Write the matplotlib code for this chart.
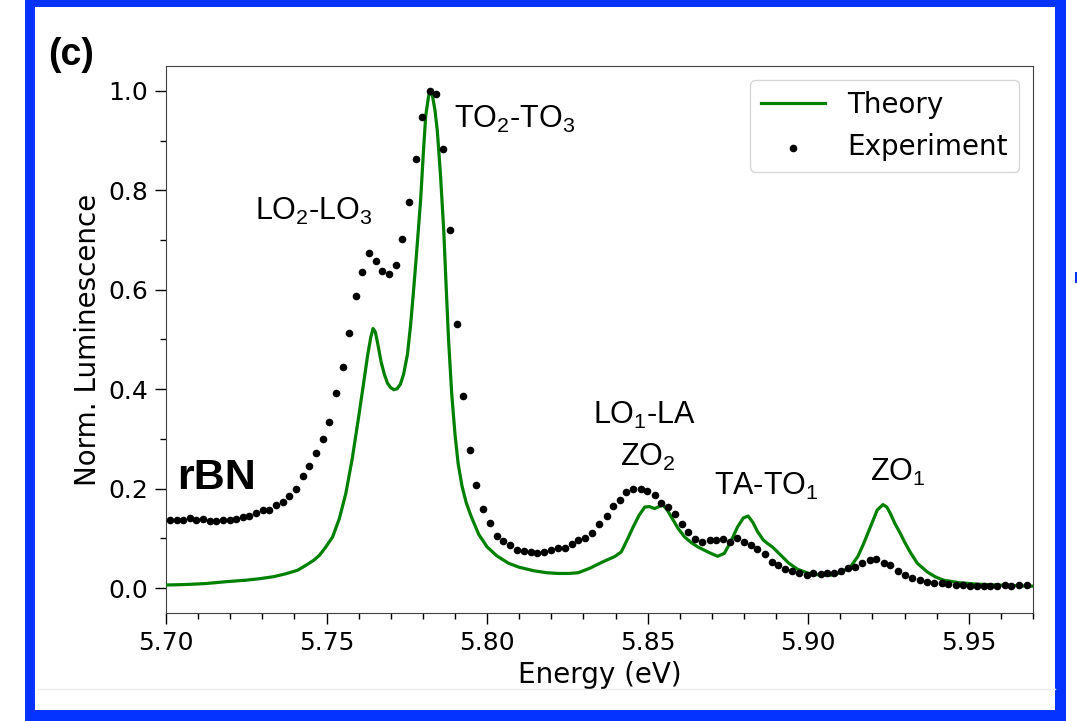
import matplotlib
matplotlib.use('Agg')
import matplotlib.pyplot as plt
from matplotlib.patches import Rectangle
from matplotlib.lines import Line2D
from matplotlib.ticker import MultipleLocator

plt.rcParams['mathtext.fontset'] = 'custom'
plt.rcParams['mathtext.rm'] = 'Liberation Sans'
plt.rcParams['mathtext.it'] = 'Liberation Sans:italic'
plt.rcParams['mathtext.bf'] = 'Liberation Sans:bold'

# theory curve
theory_e = [5.698, 5.705, 5.712, 5.7188, 5.725, 5.7292, 5.7335, 5.7374, 5.741,
            5.7436, 5.746, 5.7478, 5.7498, 5.7519, 5.754, 5.756, 5.758, 5.760,
            5.7615, 5.7628, 5.7638, 5.7645, 5.7652, 5.766, 5.767, 5.768, 5.769,
            5.770, 5.771, 5.772, 5.773, 5.774, 5.7752, 5.7762, 5.777, 5.778,
            5.7793, 5.7802, 5.7809, 5.7818, 5.7824, 5.783, 5.7838, 5.7845, 5.7855,
            5.7865, 5.7873, 5.788, 5.789, 5.790, 5.791, 5.7922, 5.7935, 5.795,
            5.7974, 5.800, 5.803, 5.8067, 5.810, 5.8145, 5.8185, 5.8222, 5.8255,
            5.8284, 5.832, 5.8361, 5.8399, 5.8418, 5.8437, 5.8455, 5.8473, 5.8491,
            5.8505, 5.8522, 5.8535, 5.8548, 5.856, 5.8574, 5.8595, 5.8615, 5.8635,
            5.8656, 5.869, 5.8718, 5.8739, 5.876, 5.878, 5.8798, 5.8813, 5.8828,
            5.8842, 5.886, 5.8873, 5.889, 5.8915, 5.894, 5.8967, 5.900, 5.9029,
            5.907, 5.910, 5.9132, 5.9155, 5.9173, 5.9195, 5.9215, 5.9233, 5.9245,
            5.9256, 5.927, 5.9287, 5.930, 5.9318, 5.934, 5.937, 5.9395, 5.9421,
            5.947, 5.9525, 5.960, 5.9685, 5.972]
theory_i = [0.006, 0.007, 0.009, 0.013, 0.016, 0.019, 0.023, 0.029, 0.036,
            0.046, 0.056, 0.066, 0.083, 0.103, 0.14, 0.19, 0.26, 0.344,
            0.41, 0.468, 0.505, 0.522, 0.515, 0.49, 0.455, 0.43, 0.412,
            0.403, 0.399, 0.401, 0.41, 0.43, 0.47, 0.53, 0.59, 0.67,
            0.78, 0.88, 0.95, 0.99, 1.0, 0.99, 0.96, 0.92, 0.83,
            0.72, 0.6, 0.5, 0.39, 0.31, 0.25, 0.205, 0.172, 0.145,
            0.108, 0.083, 0.065, 0.050, 0.042, 0.035, 0.031, 0.0295, 0.0295,
            0.031, 0.040, 0.053, 0.064, 0.073, 0.098, 0.123, 0.146, 0.163,
            0.164, 0.160, 0.164, 0.167, 0.158, 0.143, 0.12, 0.103, 0.092,
            0.083, 0.072, 0.064, 0.070, 0.095, 0.123, 0.141, 0.145, 0.132,
            0.114, 0.097, 0.090, 0.082, 0.066, 0.050, 0.038, 0.030, 0.027,
            0.026, 0.031, 0.043, 0.064, 0.090, 0.125, 0.157, 0.168, 0.163,
            0.150, 0.13, 0.110, 0.093, 0.072, 0.050, 0.033, 0.023, 0.016,
            0.011, 0.008, 0.006, 0.004, 0.004]

# experimental points
exp_e = [5.7012, 5.7033, 5.7054, 5.7074, 5.7095, 5.7116, 5.7136, 5.7157, 5.7178,
         5.7198, 5.7219, 5.7240, 5.7260, 5.7281, 5.7302, 5.7322, 5.7343, 5.7364,
         5.7384, 5.7405, 5.7426, 5.7446, 5.7467, 5.7488, 5.7508, 5.7529, 5.7550,
         5.7571, 5.7592, 5.7612, 5.7633, 5.7653, 5.7674, 5.7695, 5.7716, 5.7736,
         5.7757, 5.7778, 5.7798, 5.7821, 5.7842, 5.7862, 5.7884, 5.7905, 5.7924,
         5.7946, 5.7967, 5.7987, 5.8008, 5.8031, 5.8051, 5.8072, 5.8093, 5.8116,
         5.8136, 5.8157, 5.8178, 5.8199, 5.8220, 5.8243, 5.8263, 5.8284, 5.8305,
         5.8328, 5.8348, 5.8372, 5.8393, 5.8413, 5.8434, 5.8455, 5.8479, 5.8499,
         5.8522, 5.8543, 5.8563, 5.8584, 5.8607, 5.8627, 5.8648, 5.8670, 5.8693,
         5.8713, 5.8736, 5.8757, 5.8778, 5.8799, 5.8822, 5.8842, 5.8865, 5.8886,
         5.8907, 5.8929, 5.8951, 5.8972, 5.8995, 5.9016, 5.9039, 5.9060, 5.9080,
         5.9103, 5.9124, 5.9145, 5.9168, 5.9192, 5.9212, 5.9235, 5.9256, 5.9280,
         5.9302, 5.9323, 5.9347, 5.9370, 5.9392, 5.9416, 5.9437, 5.9460, 5.9481,
         5.9504, 5.9525, 5.9546, 5.9566, 5.9589, 5.9613, 5.9633, 5.9657, 5.9680]
exp_i = [0.138, 0.1365, 0.1365, 0.141, 0.138, 0.140, 0.135, 0.1345, 0.138,
         0.1365, 0.140, 0.143, 0.1446, 0.152, 0.158, 0.157, 0.167, 0.173,
         0.185, 0.200, 0.225, 0.245, 0.272, 0.299, 0.335, 0.393, 0.444,
         0.513, 0.588, 0.635, 0.673, 0.658, 0.637, 0.632, 0.649, 0.702,
         0.776, 0.863, 0.948, 1.0, 0.993, 0.884, 0.721, 0.531, 0.386,
         0.277, 0.207, 0.159, 0.1305, 0.105, 0.095, 0.086, 0.077, 0.074,
         0.0736, 0.071, 0.072, 0.077, 0.080, 0.081, 0.088, 0.096, 0.100,
         0.110, 0.128, 0.1446, 0.165, 0.178, 0.193, 0.200, 0.200, 0.195,
         0.187, 0.172, 0.163, 0.150, 0.1285, 0.113, 0.099, 0.093, 0.0964,
         0.0964, 0.098, 0.093, 0.100, 0.093, 0.086, 0.078, 0.068, 0.053,
         0.046, 0.038, 0.034, 0.0295, 0.026, 0.0295, 0.028, 0.0295, 0.031,
         0.035, 0.040, 0.043, 0.050, 0.056, 0.0576, 0.051, 0.0456, 0.035,
         0.026, 0.0194, 0.016, 0.012, 0.0107, 0.0094, 0.0074, 0.006, 0.006,
         0.0047, 0.0047, 0.005, 0.005, 0.005, 0.006, 0.005, 0.006, 0.006]

peak_labels = ['LO$_2$-LO$_3$', 'TO$_2$-TO$_3$', 'LO$_1$-LA', 'ZO$_2$', 'TA-TO$_1$', 'ZO$_1$']
label_e = [5.746, 5.8087, 5.849, 5.850, 5.887, 5.928]
label_i = [0.741, 0.926, 0.331, 0.245, 0.187, 0.215]

fig = plt.figure(figsize=(10.77, 7.21), dpi=100)
ax = fig.add_axes([0.1541, 0.1498, 0.805, 0.7587])

ax.plot(theory_e, theory_i, color='green', lw=2.3, label='Theory', zorder=3)
ax.scatter(exp_e, exp_i, s=20, color='black', label='Experiment', zorder=4)

for txt, xe, yi in zip(peak_labels, label_e, label_i):
    ax.text(xe, yi, txt, ha='center', va='baseline', fontsize=22,
            family='Liberation Sans')
ax.text(5.7035, 0.20, 'rBN', fontsize=31, fontweight='bold',
        family='Liberation Sans', va='baseline')

ax.set_xlim(5.70, 5.97)
ax.set_ylim(-0.05, 1.05)
ax.xaxis.set_major_locator(MultipleLocator(0.05))
ax.xaxis.set_minor_locator(MultipleLocator(0.01))
ax.yaxis.set_major_locator(MultipleLocator(0.2))
ax.yaxis.set_minor_locator(MultipleLocator(0.1))
ax.tick_params(which='major', direction='out', length=8, width=1, labelsize=18, pad=5)
ax.tick_params(which='minor', direction='out', length=4.5, width=1)
for sp in ax.spines.values():
    sp.set_color('0.25')
ax.set_xlabel('Energy (eV)', fontsize=20)
ax.set_ylabel('Norm. Luminescence', fontsize=20)
ax.legend(loc='upper right', fontsize=20, handlelength=2.3)

fig.text(0.0446, 0.91, '(c)', fontsize=27, fontweight='bold', family='Liberation Sans')

# blue frame round the panel
blue = '#0433FF'
for x0, y0, w, h in [(25, 0, 10, 721), (1055, 0, 11, 721), (25, 714, 1041, 7),
                     (25, 0, 1041, 11), (1075, 438, 2, 11)]:
    fig.add_artist(Rectangle((x0 / 1077, y0 / 721), w / 1077, h / 721,
                             transform=fig.transFigure, color=blue, lw=0))
fig.add_artist(Line2D([38 / 1077, 1055 / 1077], [32 / 721, 32 / 721],
                      transform=fig.transFigure, color='0.92', lw=1))

fig.savefig('out.png', dpi=100)
